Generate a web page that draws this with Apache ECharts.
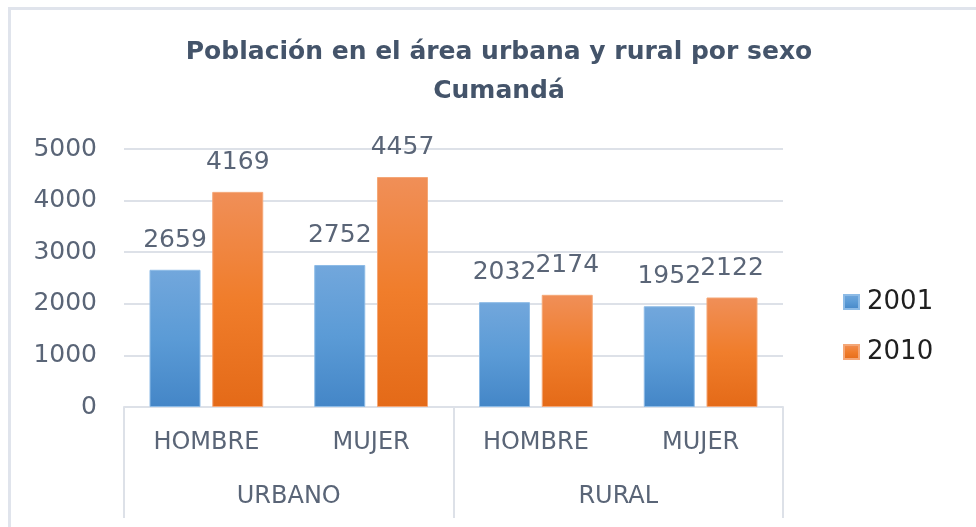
<!DOCTYPE html>
<html>
<head>
<meta charset="utf-8">
<title>Población Cumandá</title>
<script src="https://cdn.jsdelivr.net/npm/echarts@6/dist/echarts.min.js"></script>
<style>
    html, body { margin: 0; padding: 0; background: #ffffff; }
    #chart { width: 976px; height: 527px; }
</style>
</head>
<body>
<div id="chart"></div>
<script>
var categories = ['HOMBRE', 'MUJER', 'HOMBRE', 'MUJER'];
var groups = ['URBANO', 'RURAL'];
var years = ['2001', '2010'];
var values2001 = [2659, 2752, 2032, 1952];
var values2010 = [4169, 4457, 2174, 2122];
var yTicks = {min: 0, max: 5000, interval: 1000};

var font = 'DejaVu Sans';
var gray = '#5a6577';
var lineGray = '#dde1e8';

function grad(top, mid, bottom) {
    return new echarts.graphic.LinearGradient(0, 0, 0, 1, [
        {offset: 0, color: top},
        {offset: 0.5, color: mid},
        {offset: 1, color: bottom}
    ]);
}

var chart = echarts.init(document.getElementById('chart'));

var labelStyle = {
    show: true,
    position: 'top',
    distance: 17,
    fontFamily: font,
    fontSize: 25,
    lineHeight: 25,
    color: gray
};

var option = {
    backgroundColor: '#ffffff',
    animation: false,
    graphic: [{
        type: 'rect',
        shape: {x: 9.5, y: 8.5, width: 1000, height: 600},
        style: {fill: 'none', stroke: '#e0e4ec', lineWidth: 3},
        silent: true
    }],
    title: {
        text: 'Población en el área urbana y rural por sexo\nCumandá',
        left: 499,
        textAlign: 'center',
        top: 33,
        padding: 0,
        textStyle: {
            fontFamily: font,
            fontSize: 25,
            fontWeight: 'bold',
            lineHeight: 39,
            color: '#44546a'
        }
    },
    legend: {
        orient: 'vertical',
        left: 838,
        top: 284,
        itemWidth: 15,
        itemHeight: 14,
        itemGap: 24,
        icon: 'rect',
        data: years,
        textStyle: {fontFamily: font, fontSize: 26, color: '#1f1f1f', padding: [0, 0, 0, 3]}
    },
    grid: {left: 124, right: 193, top: 149, bottom: 120, containLabel: false},
    xAxis: [{
        type: 'category',
        data: categories,
        position: 'bottom',
        axisLine: {show: true, lineStyle: {color: lineGray, width: 2}},
        axisTick: {show: false},
        axisLabel: {margin: 24, fontFamily: font, fontSize: 24, color: gray}
    }, {
        type: 'category',
        data: groups,
        position: 'bottom',
        axisLine: {show: false},
        axisTick: {show: true, length: 111, lineStyle: {color: lineGray, width: 2}},
        axisLabel: {margin: 78, fontFamily: font, fontSize: 24, color: gray}
    }],
    yAxis: {
        type: 'value',
        min: yTicks.min,
        max: yTicks.max,
        interval: yTicks.interval,
        axisLine: {show: false},
        axisTick: {show: false},
        axisLabel: {
            margin: 27, fontFamily: font, fontSize: 25, color: gray,
            formatter: function (v) { return String(v); }
        },
        splitLine: {lineStyle: {color: lineGray, width: 2}}
    },
    series: [{
        name: years[0],
        type: 'bar',
        xAxisIndex: 0,
        barWidth: 51,
        barGap: '23%',
        data: values2001,
        itemStyle: {
            color: grad('#72a7dc', '#5b9bd6', '#4486c7'),
            borderColor: '#8dbbe6',
            borderWidth: 1
        },
        label: labelStyle
    }, {
        name: years[1],
        type: 'bar',
        xAxisIndex: 0,
        barWidth: 51,
        data: values2010,
        itemStyle: {
            color: grad('#f08f58', '#f07d2b', '#e46a18'),
            borderColor: '#f4a777',
            borderWidth: 1
        },
        label: labelStyle
    }]
};

chart.setOption(option);
</script>
</body>
</html>
